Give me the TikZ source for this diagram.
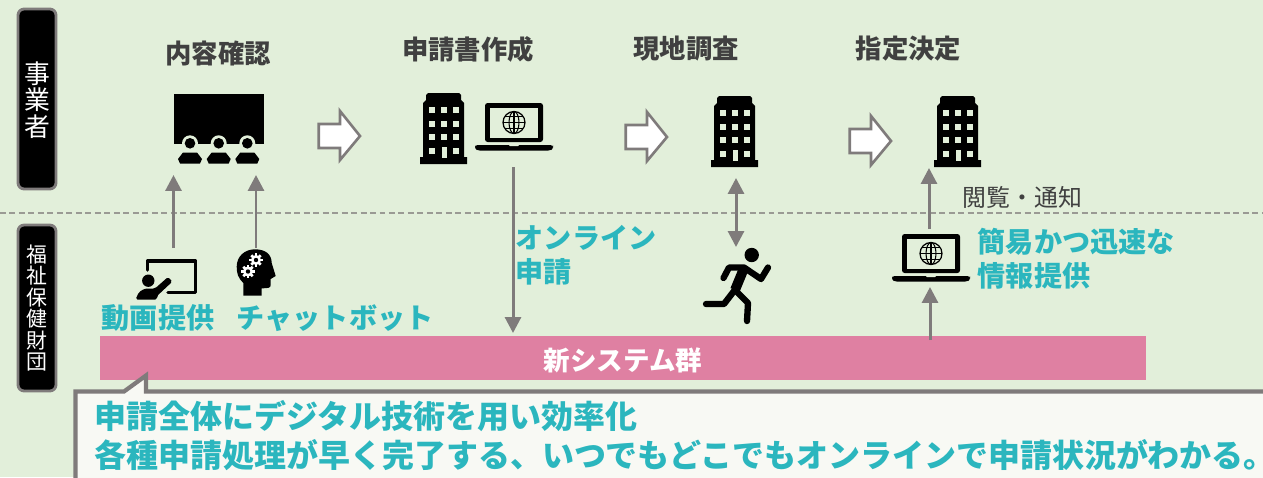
\documentclass[tikz,border=0pt]{standalone}
\usepackage{fontspec}
\setmainfont{Noto Sans CJK JP}
\definecolor{bgcol}{HTML}{E2EFDA}
\definecolor{linecol}{HTML}{7F7B7B}
\definecolor{dashcol}{HTML}{9A9A94}
\definecolor{tealcol}{HTML}{2BB6BE}
\definecolor{darkcol}{HTML}{404040}
\definecolor{barcol}{HTML}{DF80A2}
\definecolor{notecol}{HTML}{F8F9F4}
\usetikzlibrary{arrows.meta}
\tikzset{
  flowarrow/.style={draw=linecol, line width=1.7pt, -{Triangle[length=9pt,width=9pt]}},
  bothways/.style={draw=linecol, line width=1.7pt, {Triangle[length=9pt,width=9pt]}-{Triangle[length=9pt,width=9pt]}},
  pill/.style={draw=linecol, fill=black, line width=1.6pt, rounded corners=3.5pt},
  steptitle/.style={text=darkcol, font=\bfseries\fontsize{15}{18}\selectfont},
  tealtext/.style={text=tealcol, anchor=west, inner sep=0pt, font=\bfseries\fontsize{16}{19}\selectfont},
  notetext/.style={text=tealcol, anchor=west, inner sep=0pt, font=\bfseries\fontsize{18.2}{21}\selectfont},
  limbline/.style={line width=3.6pt, line cap=round, line join=round},
  pics/building/.style={code={
    \fill (0,71) -- (0,64) -- (3,64) -- (3,10) -- (6,7) -- (6,2) -- (8,0) -- (39,0) -- (41,2) -- (41,7) -- (44,10) -- (44,64) -- (47,64) -- (47,71) -- cycle;
    \foreach \wx in {12,24,36} {
      \foreach \wy in {17,31,44} {
        \fill[bgcol] (\wx-2.6,\wy-2.6) rectangle (\wx+2.6,\wy+2.6);
      }
    }
    \fill[bgcol] (9.4,55.4) rectangle (14.6,60.6);
    \fill[bgcol] (33.4,55.4) rectangle (38.6,60.6);
    \fill[bgcol] (21.5,54) rectangle (26.5,65);
  }},
  pics/laptop/.style={code={
    \fill[rounded corners=1.5pt] (10,39) -- (10,0) -- (68,0) -- (68,39) -- cycle;
    \fill[bgcol] (15,5) rectangle (63,34.5);
    \fill[rounded corners=1.5pt] (0,42) -- (78,42) -- (78,45) -- (76,47.5) -- (2,47.5) -- (0,45) -- cycle;
    \fill[bgcol] (34,42) -- (44,42) -- (43,43.2) -- (35,43.2) -- cycle;
    \draw[line width=0.7pt] (39,19.5) circle (11);
    \draw[line width=0.6pt] (39,19.5) ellipse (5 and 11);
    \draw[line width=0.6pt] (39,8.5) -- (39,30.5);
    \draw[line width=0.6pt] (28,19.5) -- (50,19.5);
    \draw[line width=0.6pt] (30,13.5) -- (48,13.5);
    \draw[line width=0.6pt] (30,25.5) -- (48,25.5);
  }},
  pics/blockarrow/.style={code={
    \draw[draw=linecol, fill=white, line width=1.5pt] (0.7,14) -- (22,14) -- (22,1) -- (42,26) -- (22,50) -- (22,38) -- (0.7,38) -- cycle;
  }},
  pics/gear/.style={code={
    \fill[white] (0,0) circle (5);
    \foreach \ga in {0,45,...,315} {
      \fill[white, rotate=\ga] (-1.4,3.5) rectangle (1.4,6.6);
    }
    \fill (0,0) circle (2.2);
  }}
}
\begin{document}
\begin{tikzpicture}[x=0.02cm,y=-0.02cm]
\useasboundingbox (0,0) rectangle (1263,477);
\fill[bgcol] (0,0) rectangle (1263,477);
\draw[dashcol, line width=0.7pt, dash pattern=on 3.4pt off 2pt] (0,213) -- (1263,213);

\draw[pill] (18,9) rectangle (56,189);
\draw[pill] (18,225) rectangle (56,391);
\node[text=white, align=center, font=\fontsize{14.7}{15.1}\selectfont] (bizlabel) at (37,100) {事\\業\\者};
\node[text=white, align=center, font=\fontsize{11.9}{12.2}\selectfont] (orglabel) at (37,308) {福\\祉\\保\\健\\財\\団};

\node[steptitle] (title1) at (218,53) {内容確認};
\node[steptitle] (title2) at (468,49) {申請書作成};
\node[steptitle] (title3) at (686,49) {現地調査};
\node[steptitle] (title4) at (908.5,49) {指定決定};

\fill (174,94) rectangle (264,144);
\foreach \px in {190,218.7,247.3} {
  \fill[bgcol] (\px,143.3) circle (8);
  \fill (\px,143.3) circle (5.3);
  \fill (\px-12,159) -- (\px-7,152.5) -- (\px+7,152.5) -- (\px+12,159) -- (\px+10,163.5) -- (\px-10,163.5) -- cycle;
}

\pic at (318,110) {blockarrow};
\pic at (625,111) {blockarrow};
\pic at (849,115) {blockarrow};

\pic at (420,93) {building};
\pic at (711,96) {building};
\pic at (934,96) {building};
\pic at (475,103) {laptop};
\pic at (892,234) {laptop};

\draw[line width=2pt, line join=round, line cap=round] (147.5,270) -- (147.5,261) -- (195.5,261) -- (195.5,292.5) -- (168,292.5);
\fill (148.3,280.7) circle (6.2);
\fill[rounded corners=1pt] (135.5,299.5) -- (139,292) -- (145,288.5) -- (155,288.5) -- (168,277) -- (172.5,281.5) -- (157,296) -- (157,299.5) -- cycle;

\fill (243.3,295.7) -- (243.3,283) .. controls (238,278) and (236.7,273) .. (236.7,266.7) .. controls (236.7,256) and (245,249.3) .. (255,249.3) .. controls (265,249.3) and (271.7,254) .. (271.7,263) -- (275.7,276) -- (270.7,279) -- (270.7,285) .. controls (270.7,288) and (268,288.3) .. (261.7,288.3) -- (261.7,295.7) -- cycle;
\pic at (256,260) {gear};
\pic at (248,271.5) {gear};

\fill (751.7,255) circle (7.2);
\draw[limbline, line width=5.6pt, line cap=butt] (744.5,267) -- (735,290);
\draw[limbline] (723.5,278) -- (729,267.5) -- (744,267.5) -- (761,279) -- (768,267.5);
\draw[limbline] (735,290) -- (748,303) -- (747,321);
\draw[limbline] (734,291) -- (724,304) -- (706,304);

\fill[barcol] (100,336) rectangle (1146,380);
\node[text=white, font=\bfseries\fontsize{15.1}{18}\selectfont] (newsys) at (623,360) {新システム群};

\coordinate (upAs) at (173.5,248);
\coordinate (upAe) at (173.5,175);
\coordinate (upBs) at (256,248);
\coordinate (upBe) at (256,175);
\coordinate (downs) at (513,167);
\coordinate (downe) at (513,333);
\coordinate (boths) at (736,178);
\coordinate (bothe) at (736,247);
\coordinate (upCs) at (929,229);
\coordinate (upCe) at (929,168);
\coordinate (upDs) at (930,340);
\coordinate (upDe) at (930,287);
\draw[flowarrow] (upAs) -- (upAe);
\draw[flowarrow] (upBs) -- (upBe);
\draw[flowarrow] (downs) -- (downe);
\draw[bothways] (boths) -- (bothe);
\draw[flowarrow] (upCs) -- (upCe);
\draw[flowarrow] (upDs) -- (upDe);

\node[text=darkcol, anchor=west, inner sep=0pt, font=\fontsize{13.6}{16}\selectfont] (notice) at (962.5,197) {閲覧・通知};
\node[tealtext] (video) at (101.5,318) {動画提供};
\node[tealtext] (chat) at (236.5,318) {チャットボット};
\node[tealtext] (online1) at (515.5,238) {オンライン};
\node[tealtext] (online2) at (515.5,272) {申請};
\node[tealtext] (quick1) at (977.5,242) {簡易かつ迅速な};
\node[tealtext] (quick2) at (977.5,276) {情報提供};

\draw[draw=linecol, fill=notecol, line width=2.4pt, line join=miter] (75.5,490) -- (75.5,391.5) -- (124,391.5) -- (146,375.5) -- (146,391.5) -- (1280,391.5) -- (1280,490) -- cycle;
\node[notetext] (note1) at (94,416) {申請全体にデジタル技術を用い効率化};
\node[notetext] (note2) at (94,455) {各種申請処理が早く完了する、いつでもどこでもオンラインで申請状況がわかる\makebox[0.4em][l]{。}};
\end{tikzpicture}
\end{document}
